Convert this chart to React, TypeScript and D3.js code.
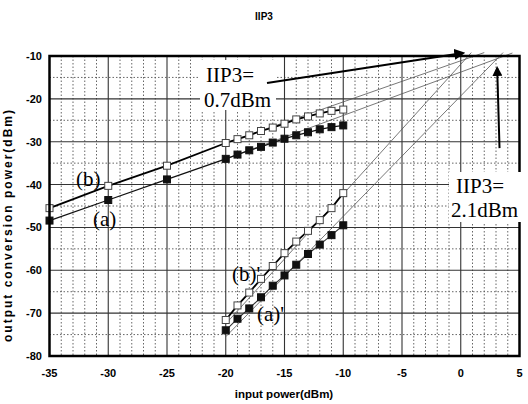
import React from "react";
import * as d3 from "d3";

// ---- data ----
const fundX = [-35, -30, -25, -20, -19, -18, -17, -16, -15, -14, -13, -12, -11, -10];
const fundB = [-45.5, -40.3, -35.6, -30.3, -29.4, -28.5, -27.5, -26.7, -25.8, -24.8, -24.1, -23.4, -22.8, -22.5];
const fundA = [-48.4, -43.6, -38.8, -34.0, -33.0, -32.0, -31.2, -30.2, -29.3, -28.5, -27.8, -27.1, -26.6, -26.2];
const im3X = [-20, -19, -18, -17, -16, -15, -14, -13, -12, -11, -10];
const im3B = [-71.6, -68.2, -65.2, -62.0, -59.0, -56.0, -53.3, -50.8, -48.3, -45.5, -42.0];
const im3A = [-74.0, -71.3, -68.9, -66.3, -63.6, -61.2, -58.7, -56.2, -54.0, -51.8, -49.5];

// extrapolation lines [x0, y0, x1, y1]
const extLines: [number, number, number, number][] = [
  [-20, -30.3, 2.0, -9.2],
  [-20, -34.0, 4.4, -9.3],
  [-20, -72.5, 0.9, -9.2],
  [-20, -75.5, 3.6, -9.2],
];

const xTicks = [-35, -30, -25, -20, -15, -10, -5, 0, 5];
const yTicks = [-10, -20, -30, -40, -50, -60, -70, -80];

const W = 528, H = 404;
const L = 49.5, R = 519.5, T = 56, B = 356;

export default function App() {
  const x = d3.scaleLinear().domain([-35, 5]).range([L, R]);
  const y = d3.scaleLinear().domain([-80, -10]).range([B, T]);
  const line = d3.line<[number, number]>().x(d => x(d[0])).y(d => y(d[1]));
  const minorX = d3.range(-34, 5, 1).filter(v => v % 5 !== 0);
  const majorX = d3.range(-30, 5, 5);
  const minorY = d3.range(-75, -10, 10);
  const majorY = d3.range(-70, -10, 10);
  const zip = (xs: number[], ys: number[]) => xs.map((v, i) => [v, ys[i]] as [number, number]);
  const sq = 7;
  const serif = "'Liberation Serif', 'Times New Roman', serif";
  const sans = "'Liberation Sans', Arial, sans-serif";

  const markers = (pts: [number, number][], filled: boolean, key: string) =>
    pts.map((p, i) => (
      <rect key={key + i} x={x(p[0]) - sq / 2} y={y(p[1]) - sq / 2} width={sq} height={sq}
        fill={filled ? "#111" : "#fff"} stroke={filled ? "#111" : "#444"} strokeWidth={1} />
    ));

  return (
    <svg width={W} height={H} style={{ position: "absolute", left: 0, top: 0, background: "#fff" }}>
      <defs>
        <marker id="ah" viewBox="0 0 10 10" refX="8" refY="5" markerWidth="5" markerHeight="5" orient="auto">
          <path d="M0,0 L10,5 L0,10 z" fill="#000" />
        </marker>
        <clipPath id="clip">
          <rect x={L} y={T - 6} width={R - L} height={B - T + 6} />
        </clipPath>
      </defs>
      <text x={264} y={20} textAnchor="middle" fontFamily={sans} fontWeight="bold" fontSize={10}>IIP3</text>

      {/* grid */}
      {minorX.map(v => (
        <line key={"mx" + v} x1={x(v)} x2={x(v)} y1={T} y2={B} stroke="#555" strokeWidth={0.9} strokeDasharray="1.5,2" />
      ))}
      {minorY.map(v => (
        <line key={"my" + v} x1={L} x2={R} y1={y(v)} y2={y(v)} stroke="#555" strokeWidth={0.9} strokeDasharray="1.5,2" />
      ))}
      {majorX.map(v => (
        <line key={"Mx" + v} x1={x(v)} x2={x(v)} y1={T} y2={B} stroke="#333" strokeWidth={1.1} />
      ))}
      {majorY.map(v => (
        <line key={"My" + v} x1={L} x2={R} y1={y(v)} y2={y(v)} stroke="#333" strokeWidth={1.1} />
      ))}

      {/* extrapolation lines */}
      <g clipPath="url(#clip)">
        {extLines.map((l, i) => (
          <line key={"e" + i} x1={x(l[0])} y1={y(l[1])} x2={x(l[2])} y2={y(l[3])} stroke="#555" strokeWidth={0.8} />
        ))}
      </g>

      {/* data lines */}
      <path d={line(zip(fundX, fundB)) || ""} fill="none" stroke="#000" strokeWidth={1.8} />
      <path d={line(zip(fundX, fundA)) || ""} fill="none" stroke="#111" strokeWidth={1.3} />
      <path d={line(zip(im3X, im3B)) || ""} fill="none" stroke="#000" strokeWidth={1.8} />
      <path d={line(zip(im3X, im3A)) || ""} fill="none" stroke="#333" strokeWidth={1.1} />
      {markers(zip(fundX, fundB), false, "fb")}
      {markers(zip(fundX, fundA), true, "fa")}
      {markers(zip(im3X, im3B), false, "ib")}
      {markers(zip(im3X, im3A), true, "ia")}

      {/* frame */}
      <rect x={L} y={T} width={R - L} height={B - T} fill="none" stroke="#000" strokeWidth={2.5} />

      {/* annotations */}
      <rect x={200} y={60} width={76} height={50} fill="#fff" />
      <text x={206} y={82} fontFamily={serif} fontSize={21}>IIP3=</text>
      <text x={204} y={107} fontFamily={serif} fontSize={21}>0.7dBm</text>
      <line x1={267} y1={83} x2={x(0.2)} y2={y(-9.3)} stroke="#000" strokeWidth={2.2} markerEnd="url(#ah)" />

      <rect x={449} y={172} width={79} height={50} fill="#fff" />
      <text x={456} y={193} fontFamily={serif} fontSize={21}>IIP3=</text>
      <text x={451} y={217} fontFamily={serif} fontSize={21}>2.1dBm</text>
      <line x1={x(3.3)} y1={y(-31.5)} x2={x(3.1)} y2={y(-12.8)} stroke="#000" strokeWidth={2} markerEnd="url(#ah)" />

      <text x={76} y={186} fontFamily={serif} fontSize={21}>(b)</text>
      <text x={93} y={226} fontFamily={serif} fontSize={21}>(a)</text>
      <text x={232} y={281} fontFamily={serif} fontSize={21}>(b)'</text>
      <text x={257} y={321} fontFamily={serif} fontSize={21}>(a)'</text>

      {/* axes labels */}
      {xTicks.map(v => (
        <text key={"xt" + v} x={x(v)} y={377} textAnchor="middle" fontFamily={sans} fontWeight="bold" fontSize={11}>{v}</text>
      ))}
      {yTicks.map(v => (
        <text key={"yt" + v} x={42} y={y(v) + 4} textAnchor="end" fontFamily={sans} fontWeight="bold" fontSize={11}>{v}</text>
      ))}
      <text x={284} y={398} textAnchor="middle" fontFamily={sans} fontWeight="bold" fontSize={11.5}>input power(dBm)</text>
      <text transform="translate(12,226) rotate(-90)" textAnchor="middle" fontFamily={sans} fontWeight="bold" fontSize={12}
        textLength={232} lengthAdjust="spacing">output conversion power(dBm)</text>
    </svg>
  );
}
